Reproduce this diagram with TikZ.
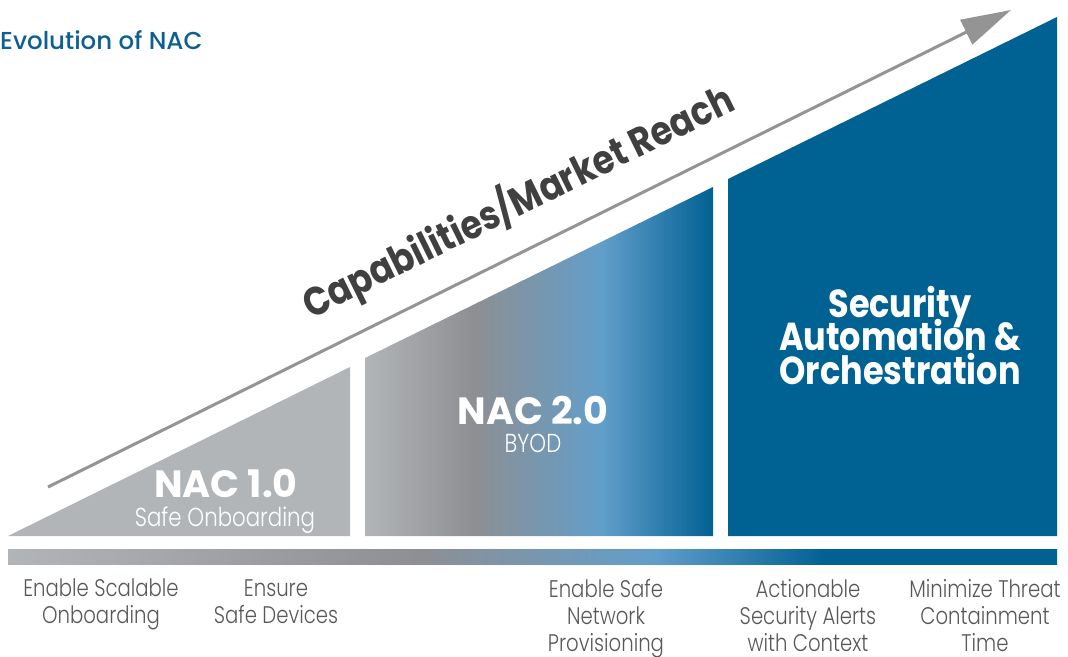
\documentclass[tikz,border=0pt]{standalone}
\usepackage{fontspec}
\setmainfont{Poppins}
\newfontfamily\headfont{Poppins}[FakeStretch=0.86]
\newfontfamily\stagefont{Poppins}
\newfontfamily\medfont{Poppins Medium}
\newfontfamily\lightfont{Poppins Light}[FakeStretch=0.82]
\usetikzlibrary{arrows.meta}

% palette
\definecolor{titleblue}{RGB}{13,95,147}
\definecolor{nacgray}{RGB}{178,181,184}
\definecolor{midgray}{RGB}{142,143,146}
\definecolor{skyblue}{RGB}{98,158,202}
\definecolor{deepblue}{RGB}{0,97,147}
\definecolor{arrowgray}{RGB}{148,148,148}
\definecolor{reachgray}{RGB}{64,64,64}
\definecolor{labelgray}{RGB}{88,88,88}

% gradients (the middle 25bp..75bp span the filled path)
\pgfdeclarehorizontalshading{byodshade}{100bp}{%
  color(0bp)=(nacgray); color(25bp)=(nacgray);
  color(40.5bp)=(midgray); color(59bp)=(skyblue);
  color(75bp)=(deepblue); color(100bp)=(deepblue)}
\pgfdeclarehorizontalshading{barshade}{100bp}{%
  color(0bp)=(nacgray); color(25bp)=(nacgray);
  color(44.5bp)=(midgray); color(55.7bp)=(skyblue);
  color(64bp)=(deepblue); color(100bp)=(deepblue)}

\tikzset{
  heading/.style={text=white, inner sep=0pt, anchor=base,
    font=\stagefont\bfseries\fontsize{38}{38}\selectfont},
  saoline/.style={text=white, inner sep=0pt, anchor=base,
    font=\headfont\bfseries\fontsize{39}{39}\selectfont},
  subhead/.style={text=white, inner sep=0pt, anchor=base,
    font=\lightfont\fontsize{26}{26}\selectfont},
  goal/.style={text=labelgray, inner sep=0pt, align=center, anchor=north,
    font=\lightfont\fontsize{24}{27}\selectfont},
  arrowline/.style={draw=arrowgray, line width=3pt,
    -{Triangle[length=50pt,width=27pt,fill=arrowgray]}},
}

\begin{document}
\begin{tikzpicture}[x=1pt,y=-1pt]
\useasboundingbox (0,0) rectangle (1068,656);

% title
\node[name=title, anchor=base west, inner sep=0pt, text=titleblue,
  font=\medfont\fontsize{24.5}{24.5}\selectfont] at (0,49) {Evolution of NAC};

% three stages under the rising line
\fill[nacgray] (8,536) -- (350,367) -- (350,536) -- cycle;
\shade[shading=byodshade] (365,536) -- (365,358) -- (713,187) -- (713,536) -- cycle;
\fill[deepblue] (728,536) -- (728,179) -- (1057,17) -- (1057,536) -- cycle;

% bottom gradient bar
\shade[shading=barshade] (8,549) rectangle (1057,564);

% capability arrow
\coordinate (arrowstart) at (48,487);
\coordinate (arrowtip) at (1011,10);
\draw[arrowline] (arrowstart) -- (arrowtip);
\node[name=reach, rotate=26.2, text=reachgray, inner sep=0pt,
  font=\headfont\bfseries\fontsize{40}{40}\selectfont] at (518,202) {Capabilities/Market Reach};

% stage captions
\node[name=nac1, heading] at (226,497) {NAC 1.0};
\node[name=nac1sub, subhead] at (225,526) {Safe Onboarding};
\node[name=nac2, heading] at (533,424) {NAC 2.0};
\node[name=nac2sub, subhead] at (533,452) {BYOD};
\node[name=sao1, saoline] at (900,317) {Security};
\node[name=sao2, saoline] at (900,350) {Automation \&};
\node[name=sao3, saoline] at (900,384) {Orchestration};

% goals along the bar
\node[name=g1, goal] at (101,579) {Enable Scalable\\Onboarding};
\node[name=g2, goal] at (276,579) {Ensure\\Safe Devices};
\node[name=g3, goal] at (606,579) {Enable Safe\\Network\\Provisioning};
\node[name=g4, goal] at (808,579) {Actionable\\Security Alerts\\with Context};
\node[name=g5, goal] at (985,579) {Minimize Threat\\Containment\\Time};
\end{tikzpicture}
\end{document}
